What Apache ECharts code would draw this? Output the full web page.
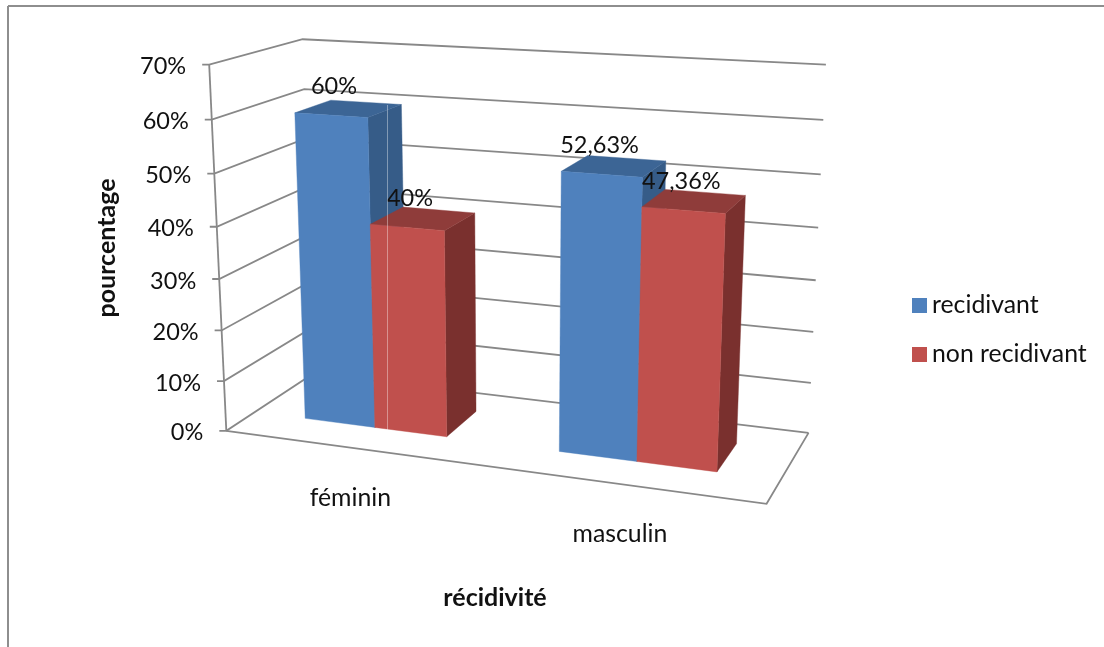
<!DOCTYPE html>
<html>
<head>
<meta charset="utf-8">
<title>Récidive selon le sexe</title>
<script src="https://cdn.jsdelivr.net/npm/echarts@6/dist/echarts.min.js"></script>
<style>
  html, body { margin: 0; padding: 0; background: #fff; }
  #chart { width: 1104px; height: 647px; }
</style>
</head>
<body>
<div id="chart"></div>
<script>
// Chart data
const categories = ['féminin', 'masculin'];
const seriesNames = ['recidivant', 'non recidivant'];
const recidivant = [60, 52.63];
const nonRecidivant = [40, 47.36];
const yTicks = [0, 10, 20, 30, 40, 50, 60, 70];
const yTitle = 'pourcentage';
const xTitle = 'récidivité';

// Face colours of the blocks: front, top, side
const blueFaces = ['#4f81bd', '#3c6595', '#365c88'];
const redFaces = ['#c0504d', '#8f3c3a', '#7a302e'];
const frameColor = '#888888';
const fontFamily = 'Lato, Carlito, "Open Sans", sans-serif';
const textSize = 24.8;
const numberSize = 23.5;

// Hidden cartesian grid: it supplies the scales; its normalised position
// is then carried through the camera below.
const GRID = { left: 200, top: 50, width: 600, height: 400 };
const BAR = { side: 0.105, width: 0.1425, zFront: 0.31, zBack: 0.72 };
const labelNudge = [3, -2];

// Camera calibration: box coordinates (x, y, z) against screen anchors.
const anchors = [
  [0, 7, 0, 209, 64], [0, 6, 0, 211.7, 119], [0, 5, 0, 215, 174], [0, 4, 0, 216.7, 226.7],
  [0, 3, 0, 219.3, 279], [0, 2, 0, 221.7, 330.7], [0, 1, 0, 224.3, 381.3], [0, 0, 0, 226, 431],
  [1, 7, 1, 825.7, 65], [1, 6, 1, 823.3, 120], [1, 5, 1, 820.7, 174], [1, 4, 1, 818.3, 228],
  [1, 3, 1, 816, 280], [1, 2, 1, 813.7, 331.7], [1, 1, 1, 811, 382.7], [1, 0, 1, 808.3, 433],
  [1, 0, 0, 766, 504], [0, 7, 1, 303, 40], [0, 6, 1, 303.3, 89], [0, 0, 1, 313.5, 373]
].map(a => [a[0], a[1] / 7, a[2], a[3], a[4]]);

function solve(A, b) {
  const n = b.length;
  const M = A.map((row, i) => row.concat(b[i]));
  for (let c = 0; c < n; c++) {
    let piv = c;
    for (let r = c + 1; r < n; r++) if (Math.abs(M[r][c]) > Math.abs(M[piv][c])) piv = r;
    [M[c], M[piv]] = [M[piv], M[c]];
    for (let r = 0; r < n; r++) {
      if (r === c) continue;
      const f = M[r][c] / M[c][c];
      for (let k = c; k <= n; k++) M[r][k] -= f * M[c][k];
    }
  }
  return M.map((row, i) => row[n] / row[i]);
}

function fitCamera(pts) {
  const rows = [], rhs = [];
  pts.forEach(([x, y, z, u, v]) => {
    const su = u / 1000, sv = v / 1000;
    rows.push([x, y, z, 1, 0, 0, 0, 0, -su * x, -su * y, -su * z]); rhs.push(su);
    rows.push([0, 0, 0, 0, x, y, z, 1, -sv * x, -sv * y, -sv * z]); rhs.push(sv);
  });
  const N = Array.from({ length: 11 }, () => new Array(11).fill(0));
  const t = new Array(11).fill(0);
  rows.forEach((r, k) => {
    for (let i = 0; i < 11; i++) {
      t[i] += r[i] * rhs[k];
      for (let j = 0; j < 11; j++) N[i][j] += r[i] * r[j];
    }
  });
  return solve(N, t);
}
const cam = fitCamera(anchors);

function project(x, y, z) {
  const w = cam[8] * x + cam[9] * y + cam[10] * z + 1;
  return [
    1000 * (cam[0] * x + cam[1] * y + cam[2] * z + cam[3]) / w,
    1000 * (cam[4] * x + cam[5] * y + cam[6] * z + cam[7]) / w
  ];
}

// Grid pixel -> normalised box coordinates
const boxX = px => (px - GRID.left) / GRID.width;
const boxY = py => (GRID.top + GRID.height - py) / GRID.height;

function line(points, width) {
  return {
    type: 'polyline',
    shape: { points },
    style: { stroke: frameColor, lineWidth: width || 1.8, fill: null }
  };
}
function label(text, pos, align, size) {
  return {
    type: 'text',
    x: pos[0],
    y: pos[1],
    style: {
      text,
      fill: '#111',
      align,
      verticalAlign: 'middle',
      fontFamily,
      fontSize: size || textSize
    }
  };
}
const fmtPercent = v => String(v).replace('.', ',') + '%';

// Walls, floor, tick marks and tick labels
function renderGridLine(params, api) {
  const value = api.value(1);
  const y = boxY(api.coord([0, value])[1]);
  const front = project(0, y, 0);
  const children = [
    line([[front[0] - 7, front[1]], front, project(0, y, 1), project(1, y, 1)]),
    label(value + '%', [front[0] - 23, front[1] + 2], 'right', numberSize)
  ];
  if (value === yTicks[0]) {
    children.push(line([project(0, 0, 0), project(1, 0, 0), project(1, 0, 1)]));
  }
  if (value === yTicks[yTicks.length - 1]) {
    children.push(line([project(0, 0, 0), front]));
  }
  return { type: 'group', children };
}

// Category names beneath the floor
function renderCategory(params, api) {
  const cx = boxX(api.coord([api.value(0), 0])[0]);
  const p = project(cx, 0, 0);
  return label(categories[api.value(0)], [p[0], p[1] + 50], 'center');
}

// One block in perspective with its value above the front face
function blockRenderer(seriesIndex, faces) {
  return function (params, api) {
    const base = api.coord([api.value(0), 0]);
    const top = api.coord([api.value(0), api.value(1)]);
    const band = api.size([1, 0])[0] / GRID.width;
    const xc = boxX(base[0]);
    const x0 = xc - band / 2 + BAR.side + seriesIndex * BAR.width;
    const x1 = x0 + BAR.width;
    const y = boxY(top[1]);
    const { zFront: zf, zBack: zb } = BAR;
    const face = (pts, fill) => ({
      type: 'polygon',
      shape: { points: pts.map(q => project(q[0], q[1], q[2])) },
      style: { fill, stroke: fill, lineWidth: 0.4 }
    });
    const mid = project((x0 + x1) / 2, y, zf);
    return {
      type: 'group',
      children: [
        face([[x1, 0, zf], [x1, 0, zb], [x1, y, zb], [x1, y, zf]], faces[2]),
        face([[x0, y, zf], [x1, y, zf], [x1, y, zb], [x0, y, zb]], faces[1]),
        face([[x0, 0, zf], [x1, 0, zf], [x1, y, zf], [x0, y, zf]], faces[0]),
        label(fmtPercent(api.value(1)), [mid[0] + labelNudge[api.value(0)], mid[1] - 29], 'center', numberSize)
      ]
    };
  };
}

const chart = echarts.init(document.getElementById('chart'), null, { renderer: 'canvas' });

chart.setOption({
  animation: false,
  backgroundColor: '#ffffff',
  textStyle: { fontFamily },
  grid: GRID,
  xAxis: { type: 'category', data: categories, show: false },
  yAxis: { type: 'value', min: 0, max: 70, interval: 10, show: false },
  legend: {
    orient: 'vertical',
    left: 912,
    top: 293,
    padding: 0,
    itemWidth: 15,
    itemHeight: 15,
    itemGap: 24,
    icon: 'rect',
    data: seriesNames,
    textStyle: { fontFamily, fontSize: textSize, color: '#111' }
  },
  graphic: [
    { type: 'line', shape: { x1: 8, y1: 6, x2: 1104, y2: 6 }, style: { stroke: '#8e8e8e', lineWidth: 2 } },
    { type: 'line', shape: { x1: 8, y1: 6, x2: 8, y2: 647 }, style: { stroke: '#8e8e8e', lineWidth: 2 } },
    { type: 'line', z: 100, shape: { x1: 387.5, y1: 105, x2: 387.5, y2: 431 }, style: { stroke: 'rgba(255,255,255,0.38)', lineWidth: 1 } },
    { type: 'text', x: 107, y: 248, rotation: Math.PI / 2,
      style: { text: yTitle, align: 'center', verticalAlign: 'middle', fontFamily, fontSize: 25, fontWeight: 'bold', fill: '#111' } },
    { type: 'text', x: 495, y: 598,
      style: { text: xTitle, align: 'center', verticalAlign: 'middle', fontFamily, fontSize: 25, fontWeight: 'bold', fill: '#111' } }
  ],
  series: [
    {
      name: 'grille', type: 'custom', coordinateSystem: 'cartesian2d', z: 1, silent: true,
      encode: { x: 0, y: 1 },
      data: yTicks.map(v => [0, v]),
      renderItem: renderGridLine
    },
    {
      name: 'catégories', type: 'custom', coordinateSystem: 'cartesian2d', z: 1, silent: true,
      encode: { x: 0, y: 1 },
      data: categories.map((c, i) => [i, 0]),
      renderItem: renderCategory
    },
    {
      name: seriesNames[0], type: 'custom', coordinateSystem: 'cartesian2d', z: 2,
      itemStyle: { color: blueFaces[0] },
      encode: { x: 0, y: 1 },
      data: recidivant.map((v, i) => [i, v]),
      renderItem: blockRenderer(0, blueFaces)
    },
    {
      name: seriesNames[1], type: 'custom', coordinateSystem: 'cartesian2d', z: 3,
      itemStyle: { color: redFaces[0] },
      encode: { x: 0, y: 1 },
      data: nonRecidivant.map((v, i) => [i, v]),
      renderItem: blockRenderer(1, redFaces)
    }
  ]
});
</script>
</body>
</html>
